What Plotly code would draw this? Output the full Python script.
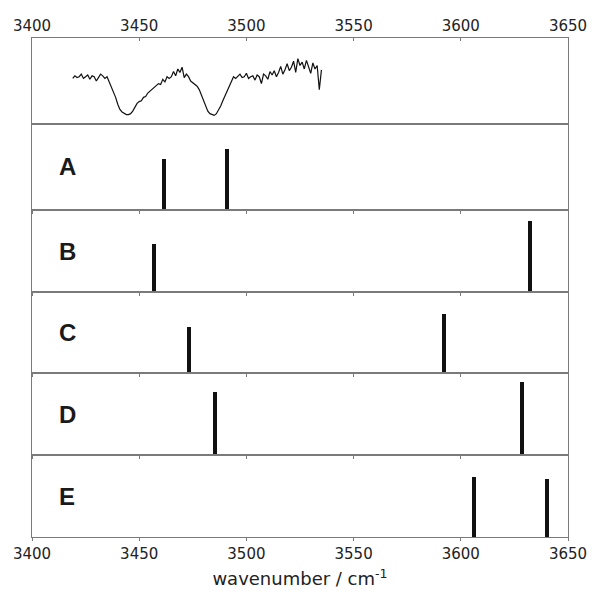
import plotly.graph_objects as go
from plotly.subplots import make_subplots

# Measured IR spectrum (top trace), intensity in panel units
spec_wn = list(range(3419, 3536))
spec_int = [
    0.53, 0.56, 0.54, 0.55, 0.58, 0.53, 0.55, 0.57, 0.52, 0.56,
    0.55, 0.50, 0.54, 0.58, 0.56, 0.53, 0.55,
    0.49, 0.45, 0.38, 0.31, 0.23, 0.17, 0.14, 0.12, 0.11, 0.11,
    0.12, 0.15, 0.19, 0.24, 0.26, 0.27, 0.31, 0.32, 0.36, 0.38,
    0.41, 0.42, 0.45, 0.47, 0.46, 0.52, 0.49, 0.55, 0.53, 0.55,
    0.61, 0.56, 0.64, 0.60, 0.66, 0.54, 0.58, 0.55, 0.50, 0.48,
    0.46, 0.44, 0.40, 0.34, 0.28, 0.21, 0.15, 0.12, 0.105, 0.10,
    0.12, 0.16, 0.21, 0.27, 0.33, 0.37, 0.44, 0.50, 0.55, 0.53,
    0.56, 0.58, 0.54, 0.55, 0.59, 0.53, 0.55, 0.56, 0.51, 0.57,
    0.55, 0.47, 0.58, 0.56, 0.52, 0.61, 0.57, 0.62, 0.55, 0.60,
    0.67, 0.58, 0.63, 0.70, 0.62, 0.66, 0.73, 0.60, 0.76, 0.68,
    0.72, 0.64, 0.74, 0.66, 0.59, 0.71, 0.64, 0.68, 0.40, 0.63,
]

# Calculated stick spectra for conformers A-E
labels = ["A", "B", "C", "D", "E"]
stick_pos = [
    [3461.7, 3490.9],
    [3456.9, 3632.3],
    [3473.1, 3592.2],
    [3485.4, 3628.4],
    [3606.0, 3640.0],
]
stick_int = [
    [0.593, 0.706],
    [0.585, 0.870],
    [0.564, 0.728],
    [0.772, 0.894],
    [0.735, 0.707],
]

x_ticks = [3400, 3450, 3500, 3550, 3600, 3650]

frame = "#7a7a7a"
ink = "#111111"
font_fam = "DejaVu Sans"

fig = make_subplots(
    rows=6, cols=1, vertical_spacing=0,
    row_heights=[86, 86, 82, 81, 82, 82],
)

fig.add_trace(go.Scatter(
    x=spec_wn, y=spec_int, mode="lines",
    line=dict(color=ink, width=1.2), showlegend=False,
), row=1, col=1)

for i, (pos, inten) in enumerate(zip(stick_pos, stick_int)):
    r = i + 2
    fig.add_trace(go.Bar(
        x=pos, y=inten, width=1.9,
        marker=dict(color=ink, line=dict(width=0)),
        showlegend=False,
    ), row=r, col=1)
    fig.add_annotation(
        x=3416.5, y=0.5, text=f"<b>{labels[i]}</b>", showarrow=False,
        xref=f"x{r}", yref=f"y{r}", xanchor="center", yanchor="middle",
        font=dict(family="Liberation Sans", size=24, color="#1a1a1a"),
    )

for r in range(1, 7):
    xa = dict(
        range=[3400, 3650], tickvals=x_ticks, showline=True, mirror=True,
        linecolor=frame, linewidth=1.3, showgrid=False, zeroline=False,
        ticklen=3, tickcolor=frame, tickwidth=1,
        tickfont=dict(family=font_fam, size=15, color="#222"),
        showticklabels=False, ticks="outside", automargin=False,
    )
    if r == 1:
        xa.update(side="top", ticks="inside", showticklabels=True)
    if r == 6:
        xa.update(showticklabels=True,
                  title=dict(text="wavenumber / cm<sup>-1</sup>",
                             font=dict(family=font_fam, size=18, color="#222"),
                             standoff=10))
    fig.update_xaxes(row=r, col=1, **xa)
    fig.update_yaxes(row=r, col=1, range=[0, 1], showline=True, mirror=True,
                     linecolor=frame, linewidth=1.3, showgrid=False,
                     zeroline=False, showticklabels=False, ticks="",
                     automargin=False)

fig.update_layout(
    width=592, height=594,
    margin=dict(l=32, r=24, t=38, b=57),
    paper_bgcolor="white", plot_bgcolor="white",
    bargap=0,
)

fig.write_html("out.html")
